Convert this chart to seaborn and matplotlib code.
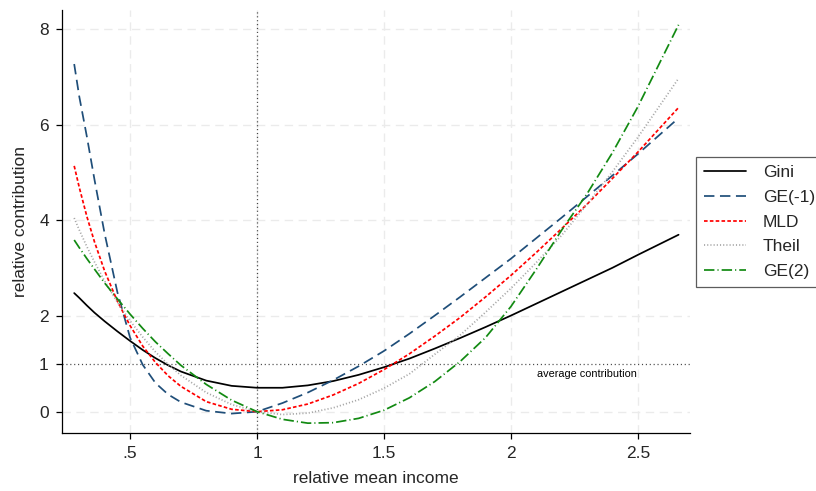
import matplotlib
matplotlib.use("Agg")
import matplotlib.pyplot as plt
import seaborn as sns
import pandas as pd

# relative mean income (x)
income = [0.28, 0.30, 0.33, 0.36, 0.40, 0.45, 0.50, 0.55, 0.60, 0.65, 0.70, 0.80, 0.90,
          1.00, 1.10, 1.20, 1.30, 1.40, 1.50, 1.60, 1.70, 1.80, 1.90, 2.00, 2.10, 2.20,
          2.30, 2.40, 2.50, 2.66]

gini = [2.48, 2.38, 2.22, 2.07, 1.89, 1.68, 1.48, 1.29, 1.12, 0.97, 0.84, 0.65, 0.54,
        0.50, 0.50, 0.55, 0.64, 0.77, 0.93, 1.11, 1.32, 1.54, 1.77, 2.01, 2.26, 2.51,
        2.76, 3.01, 3.28, 3.70]
ge_m1 = [7.27, 6.59, 5.75, 4.85, 3.72, 2.50, 1.55, 0.98, 0.60, 0.36, 0.20, 0.02, -0.04,
         0.00, 0.18, 0.40, 0.66, 0.95, 1.27, 1.63, 2.01, 2.40, 2.80, 3.20, 3.63, 4.06,
         4.50, 4.94, 5.39, 6.14]
mld = [5.14, 4.69, 4.08, 3.55, 2.94, 2.31, 1.80, 1.37, 1.03, 0.75, 0.53, 0.21, 0.05,
       0.00, 0.04, 0.16, 0.35, 0.59, 0.88, 1.21, 1.58, 1.97, 2.40, 2.85, 3.33, 3.83,
       4.34, 4.88, 5.43, 6.36]
theil = [4.05, 3.80, 3.45, 3.13, 2.73, 2.29, 1.90, 1.56, 1.25, 0.99, 0.76, 0.40, 0.15,
         0.00, -0.06, -0.03, 0.08, 0.25, 0.49, 0.79, 1.20, 1.60, 2.08, 2.58, 3.12, 3.69,
         4.34, 5.02, 5.74, 6.97]
ge_2 = [3.59, 3.43, 3.20, 2.98, 2.69, 2.36, 2.04, 1.74, 1.46, 1.21, 0.97, 0.57, 0.24,
        0.00, -0.16, -0.24, -0.23, -0.14, 0.03, 0.29, 0.63, 1.05, 1.55, 2.20, 2.98, 3.80,
        4.56, 5.42, 6.38, 8.09]

series_names = ["Gini", "GE(-1)", "MLD", "Theil", "GE(2)"]
series_values = [gini, ge_m1, mld, theil, ge_2]

x_ticks = [0.5, 1, 1.5, 2, 2.5]
x_ticklabels = [".5", "1", "1.5", "2", "2.5"]
y_ticks = [0, 1, 2, 4, 6, 8]
y_ticklabels = ["0", "1", "2", "4", "6", "8"]

sns.set_theme(style="white")
plt.rcParams["font.family"] = ["Liberation Sans", "DejaVu Sans"]
plt.rcParams["lines.scale_dashes"] = False

FS = 12.5

fig = plt.figure(figsize=(8.16, 4.91), dpi=100)
ax = fig.add_axes([62 / 816, 1 - 433 / 491, (690 - 62) / 816, (433 - 10) / 491])

df = pd.DataFrame({
    "income": income * len(series_names),
    "value": sum(series_values, []),
    "series": sum([[n] * len(income) for n in series_names], []),
})

styles = {
    "Gini": dict(color="black", dashes=None),
    "GE(-1)": dict(color="#1f4e79", dashes=(7.5, 4)),
    "MLD": dict(color="#ff0000", dashes=(2.6, 1.6)),
    "Theil": dict(color="#a6a6a6", dashes=(0.8, 1.5)),
    "GE(2)": dict(color="#128a12", dashes=(7.5, 2.2, 0.8, 2.2)),
}

# gridlines (dashed light grey)
for xv in x_ticks:
    ax.axvline(xv, color="#ebebeb", lw=1.0, dashes=(6, 4), zorder=0)
for yv in [0, 2, 4, 6, 8]:
    ax.axhline(yv, color="#ebebeb", lw=1.0, dashes=(6, 4), zorder=0)

# reference lines
ax.axhline(1, color="#444444", lw=0.9, dashes=(0.8, 2.0), zorder=1)
ax.axvline(1, color="#444444", lw=0.9, dashes=(0.8, 2.0), zorder=1)

for name in series_names:
    sub = df[df["series"] == name]
    sns.lineplot(data=sub, x="income", y="value", ax=ax, color=styles[name]["color"],
                 lw=1.25, label=name, zorder=3)
    line = ax.get_lines()[-1]
    if styles[name]["dashes"] is not None:
        line.set_dashes(styles[name]["dashes"])

ax.text(2.30, 0.79, "average contribution", fontsize=7.8, ha="center", va="center",
        color="black")

ax.set_xlim(0.232, 2.705)
ax.set_ylim(-0.446, 8.40)
ax.set_xticks(x_ticks)
ax.set_xticklabels(x_ticklabels)
ax.set_yticks(y_ticks)
ax.set_yticklabels(y_ticklabels)
ax.tick_params(axis="both", which="major", direction="out", length=4.5, width=0.9,
               color="black", labelsize=FS, pad=5, bottom=True, left=True)
ax.grid(False)
for s in ["top", "right"]:
    ax.spines[s].set_visible(False)
for s in ["left", "bottom"]:
    ax.spines[s].set_color("black")
    ax.spines[s].set_linewidth(0.9)

ax.set_xlabel("relative mean income", fontsize=FS, labelpad=7)
ax.set_ylabel("relative contribution", fontsize=FS, labelpad=8)

leg = ax.legend(loc="center left", bbox_to_anchor=(696 / 816, 1 - 222 / 491),
                bbox_transform=fig.transFigure, frameon=True,
                fancybox=False, edgecolor="#333333", fontsize=FS, handlelength=2.42,
                borderpad=0.45, labelspacing=0.55, handletextpad=0.98, borderaxespad=0)
leg.get_frame().set_linewidth(0.9)

fig.savefig("out.png", dpi=100)
